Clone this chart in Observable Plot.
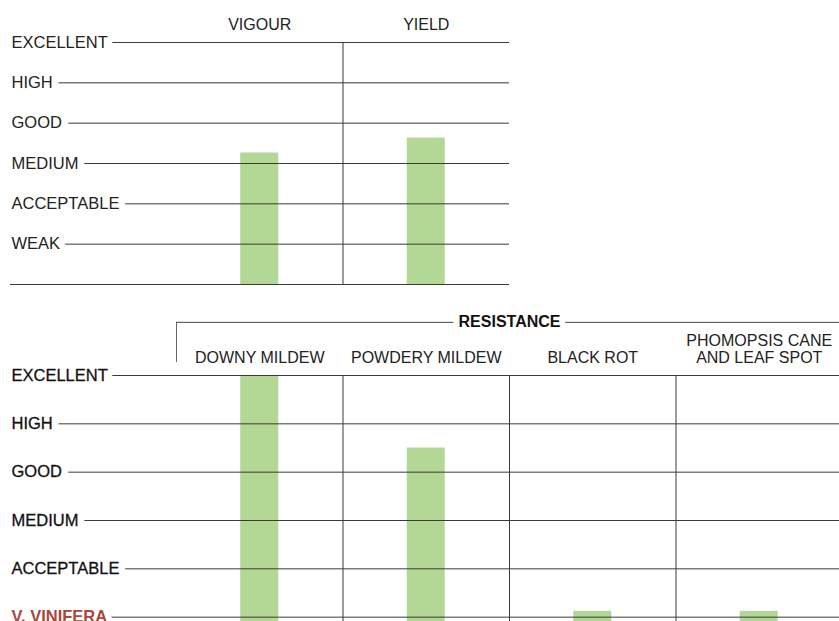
<!DOCTYPE html>
<html><head><meta charset="utf-8">
<script src="https://cdn.jsdelivr.net/npm/d3@7"></script>
<script src="https://cdn.jsdelivr.net/npm/@observablehq/plot@0.6"></script>
<style>
html,body{margin:0;padding:0;background:#fff;overflow:hidden;}
#chart svg{display:block;}
</style></head><body><div id="chart"></div>
<script>
// ---- data ----
const topLevels = ["WEAK", "ACCEPTABLE", "MEDIUM", "GOOD", "HIGH", "EXCELLENT"];
const topCategories = ["VIGOUR", "YIELD"];
const topValues = [3.26, 3.63];

const bottomLevels = ["V. VINIFERA", "ACCEPTABLE", "MEDIUM", "GOOD", "HIGH", "EXCELLENT"];
const resistanceCategories = ["DOWNY MILDEW", "POWDERY MILDEW", "BLACK ROT", "PHOMOPSIS CANE\nAND LEAF SPOT"];
const resistanceValues = [6, 4.5, 1.12, 1.12];
const groupTitle = "RESISTANCE";

// ---- style ----
const FONT = "'Liberation Sans', Arial, Helvetica, sans-serif";
const GREEN = "#b3d794";
const LINE = "#3a3a3a";
const TEXT = "#222";
const DARK = "#111";
const RED = "#a9473a";

const topData = topCategories.map((c, i) => ({c, i, v: topValues[i]}));
const topLevelData = topLevels.map((l, i) => ({l, v: i + 1}));
const resData = resistanceCategories.map((c, i) => ({c, i, v: resistanceValues[i]}));
const bottomLevelData = bottomLevels.map((l, i) => ({l, v: i + 1}));

const topChart = Plot.plot({
  width: 839, height: 300,
  marginLeft: 10, marginRight: 330, marginTop: 0, marginBottom: 0,
  style: {fontFamily: FONT, fontSize: "16px", color: TEXT, background: "#fff"},
  x: {domain: [0, 2], range: [176, 509], axis: null},
  y: {domain: [0, 6], range: [284, 42], axis: null},
  marks: [
    Plot.rectY(topData, {x1: d => d.i, x2: d => d.i + 1, y1: 0, y2: "v", fill: GREEN, insetLeft: 64.25, insetRight: 64.25}),
    Plot.ruleY([0, ...topLevelData.map(d => d.v)], {stroke: LINE, strokeWidth: 1}),
    Plot.ruleX([1], {y1: 0, y2: 6, stroke: LINE}),
    Plot.text(topLevelData, {y: "v", text: "l", frameAnchor: "left", textAnchor: "start", dx: 1, fontSize: 16.5, fill: TEXT, stroke: "white", strokeWidth: 14, paintOrder: "stroke"}),
    Plot.text(topData, {x: d => d.i + 0.5, text: "c", frameAnchor: "top", dy: 29, lineAnchor: "bottom", fontSize: 16, fill: TEXT})
  ]
});

const bottomChart = Plot.plot({
  width: 839, height: 321,
  marginLeft: 10, marginRight: 0, marginTop: 0, marginBottom: 0,
  style: {fontFamily: FONT, fontSize: "16px", color: TEXT, background: "#fff"},
  x: {domain: [0, 4], range: [176, 842], axis: null},
  y: {domain: [0, 6], range: [365, 75], axis: null},
  marks: [
    Plot.rectY(resData, {x1: d => d.i, x2: d => d.i + 1, y1: 0, y2: "v", fill: GREEN, insetLeft: 64.25, insetRight: 64.25}),
    Plot.ruleY(bottomLevelData.map(d => d.v), {stroke: LINE}),
    Plot.ruleX([1, 2, 3], {y1: 0, y2: 6, stroke: LINE}),
    // bracket for the resistance group
    Plot.ruleY([7.1], {x1: 0, x2: 4, stroke: "#444"}),
    Plot.ruleX([0], {y1: 7.1, y2: 6.27, stroke: "#666"}),
    Plot.text([groupTitle], {x: 2, y: 7.1, text: d => d, fontSize: 16, fontWeight: "bold", fill: DARK, stroke: "white", strokeWidth: 12, paintOrder: "stroke"}),
    Plot.text(resData, {x: d => d.i + 0.5, text: "c", frameAnchor: "top", dy: 62, lineAnchor: "bottom", lineHeight: 1.04, fontSize: 16, fill: TEXT}),
    // level labels: white halo (drawn white) cuts the grid line, then the text itself
    Plot.text(bottomLevelData.filter(d => d.v !== 1), {y: "v", text: "l", frameAnchor: "left", textAnchor: "start", dx: 1, fontSize: 16.5,
      fill: "white", stroke: "white", strokeWidth: 14}),
    Plot.text(bottomLevelData.filter(d => d.v !== 1), {y: "v", text: "l", frameAnchor: "left", textAnchor: "start", dx: 1, fontSize: 16.5,
      fill: DARK, stroke: DARK, strokeWidth: 0.3}),
    Plot.text(bottomLevelData.filter(d => d.v === 1), {y: "v", text: "l", frameAnchor: "left", textAnchor: "start", dx: 1, fontSize: 16.5,
      fontWeight: "bold", fill: RED, stroke: "white", strokeWidth: 12, paintOrder: "stroke"})
  ]
});

document.getElementById("chart").append(topChart, bottomChart);
</script>
</body></html>
